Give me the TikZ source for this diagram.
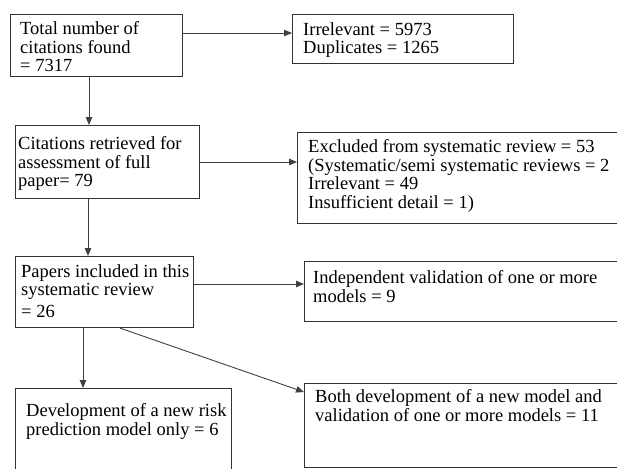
\documentclass[tikz,border=0pt]{standalone}
\usepackage{fontspec}
\setmainfont{Liberation Serif}
\usetikzlibrary{arrows.meta}
\begin{document}
\begin{tikzpicture}[x=1pt,y=-1pt,
  box/.style={draw=black!80, line width=1.1pt, rectangle, inner sep=0pt, anchor=north west},
  txt/.style={inner sep=0pt, anchor=north west, align=left, yshift=12.6pt, font=\fontsize{18.5}{18.5}\selectfont},
  arr/.style={draw=black!75, line width=0.9pt, -{Triangle[length=8pt,width=6.5pt]}}]
\useasboundingbox (0,0) rectangle (617,468);
\clip (0,0) rectangle (617,468);
% boxes
\node[box, minimum width=172pt, minimum height=62pt] (b1) at (10,14) {};
\node[box, minimum width=221pt, minimum height=49pt] (b2) at (292,14) {};
\node[box, minimum width=184pt, minimum height=73pt] (b3) at (15,125) {};
\node[box, minimum width=323pt, minimum height=91pt] (b4) at (297,132) {};
\node[box, minimum width=178pt, minimum height=71pt] (b5) at (15,256) {};
\node[box, minimum width=316pt, minimum height=60pt] (b6) at (304,261) {};
\node[box, minimum width=216pt, minimum height=90pt] (b7) at (15,388) {};
\node[box, minimum width=316pt, minimum height=84pt] (b8) at (304,383) {};
% texts (positions are first-line baselines; yshift lifts to the top)
\node[txt] (t1) at (20,34) {Total number of\\citations found\\= 7317};
\node[txt] (t2) at (303,35) {Irrelevant = 5973\\Duplicates = 1265};
\node[txt] (t3) at (18,149) {Citations retrieved for\\assessment of full\\paper= 79};
\node[txt] (t4) at (308,152) {Excluded from systematic review = 53\\(Systematic/semi systematic reviews = 2\\Irrelevant = 49\\Insufficient detail = 1)};
\node[txt] (t5) at (21,277) {Papers included in this\\systematic review\\[3pt]= 26};
\node[txt] (t6) at (313,283) {Independent validation of one or more\\models = 9};
\node[txt] (t7) at (26,416) {Development of a new risk\\prediction model only = 6};
\node[txt] (t8) at (315,402) {Both development of a new model and\\validation of one or more models = 11};
% connectors
\draw[arr] (b1.east |- 0,33) -- (b2.west |- 0,33);
\draw[arr] (b1.south -| 89,0) -- (b3.north -| 89,0);
\draw[arr] (b3.east |- 0,162) -- (b4.west |- 0,162);
\draw[arr] (b3.south -| 88,0) -- (b5.north -| 88,0);
\draw[arr] (b5.east |- 0,284) -- (b6.west |- 0,284);
\draw[arr] (b5.south -| 83,0) -- (b7.north -| 83,0);
\draw[arr] (b5.south -| 120,0) -- (b8.west |- 0,392);
\end{tikzpicture}
\end{document}
